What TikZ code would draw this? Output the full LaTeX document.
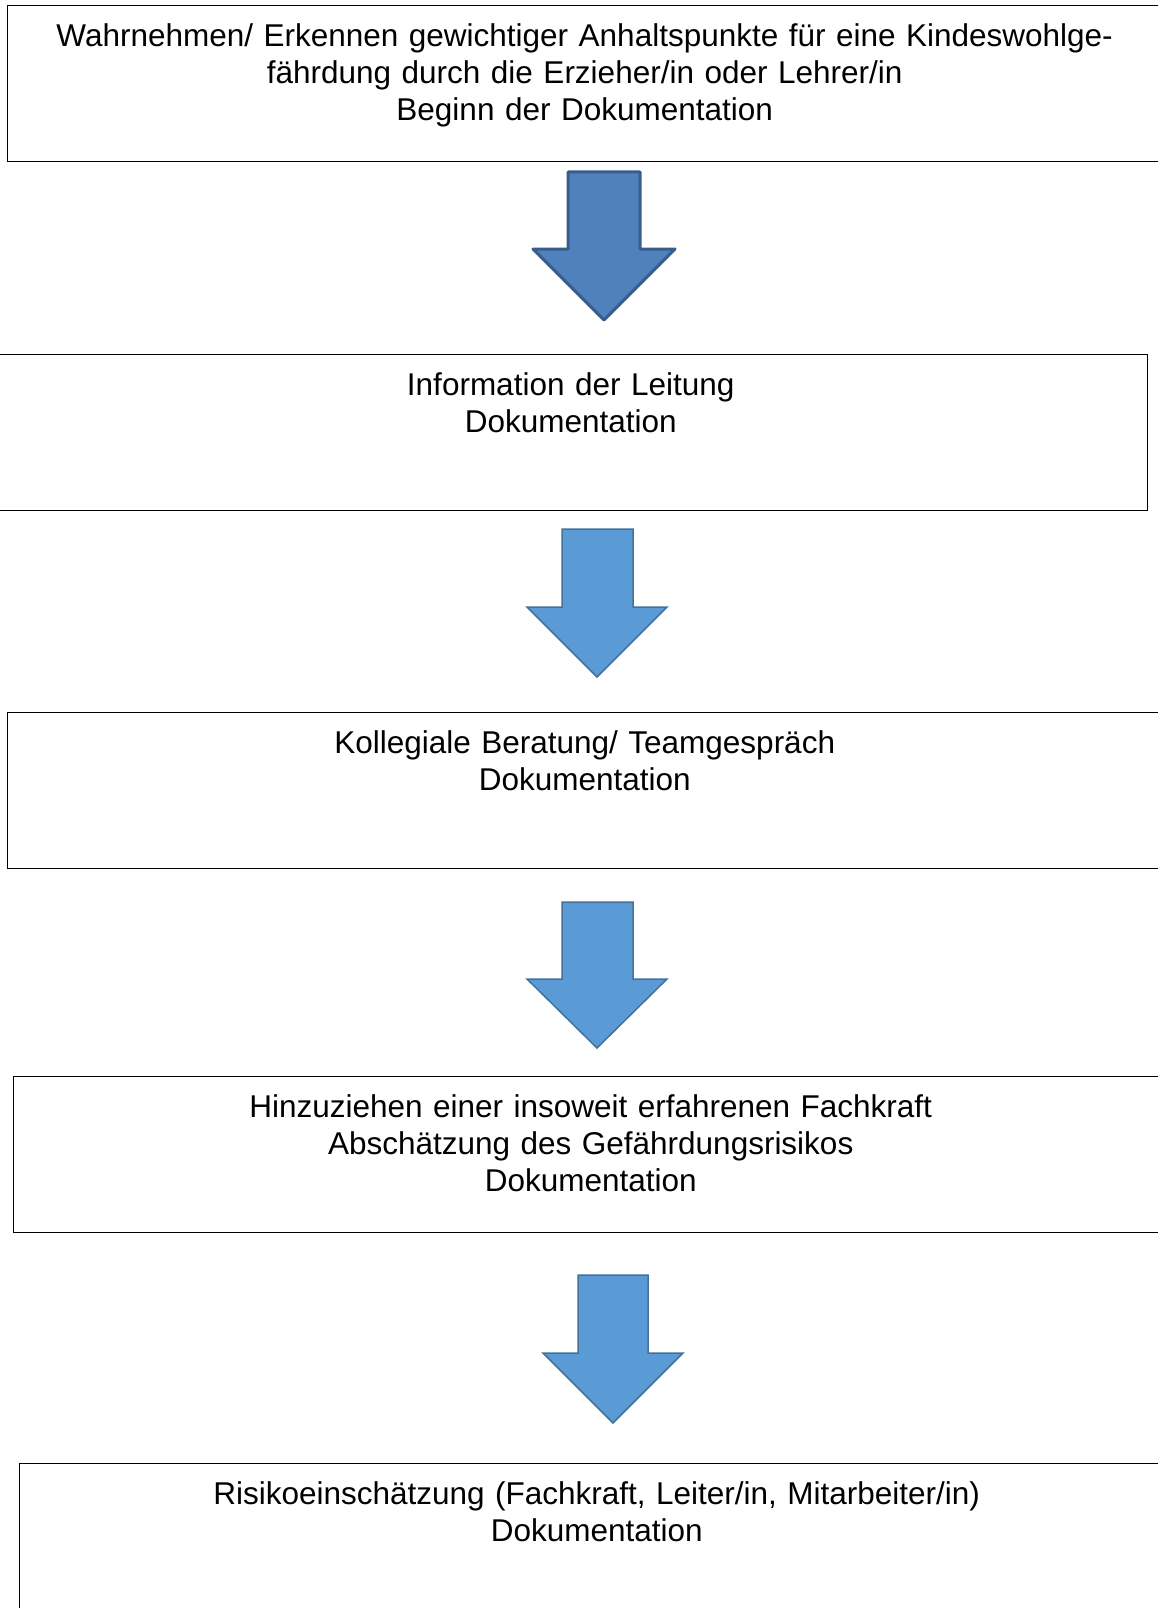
\documentclass[tikz,border=0pt]{standalone}
\usepackage{fontspec}
\setmainfont{Liberation Sans}
\usepackage{tikz}
\usetikzlibrary{arrows.meta}

\definecolor{firstfill}{HTML}{4F81BD}
\definecolor{firstline}{HTML}{385D8A}
\definecolor{arrfill}{HTML}{5B9BD5}
\definecolor{arrline}{HTML}{41719C}

\tikzset{
  stepbox/.style={draw=black, line width=1.4pt, anchor=north west,
    minimum width=1154pt, text width=1134pt, inner xsep=10pt, inner ysep=18pt,
    align=center, text height=22.5pt, text depth=97.5pt,
    font=\fontsize{31.5}{37}\selectfont},
  firstarrow/.style={fill=firstfill, draw=firstline, line width=3pt, line join=round},
  blockarrow/.style={fill=arrfill, draw=arrline, line width=1.5pt}
}

\begin{document}
\begin{tikzpicture}[x=1pt, y=-1pt]
            \useasboundingbox (0,0) rectangle (1158,1608);

            \node[stepbox] (wahrnehmen) at (7,5) {Wahrnehmen/ Erkennen gewichtiger Anhaltspunkte für eine Kindeswohlge-\\fährdung durch die Erzieher/in oder Lehrer/in\\Beginn der Dokumentation};
            \node[stepbox] (leitung) at (-7,354) {Information der Leitung\\Dokumentation};
            \node[stepbox] (beratung) at (7,712) {Kollegiale Beratung/ Teamgespräch\\Dokumentation};
            \node[stepbox] (fachkraft) at (13,1076) {Hinzuziehen einer insoweit erfahrenen Fachkraft\\Abschätzung des Gefährdungsrisikos\\Dokumentation};
            \node[stepbox] (risiko) at (19,1463) {Risikoeinschätzung (Fachkraft, Leiter/in, Mitarbeiter/in)\\Dokumentation};

            \draw[firstarrow] (568,172) -- (640,172) -- (640,249) -- (675,249) -- (604,320) -- (533,249) -- (568,249) -- cycle;

            \draw[blockarrow] (562,529) -- (633,529) -- (633,607) -- (667,607) -- (597,677) -- (527,607) -- (562,607) -- cycle;
            \draw[blockarrow] (562,902) -- (633,902) -- (633,979) -- (667,979) -- (597,1048) -- (527,979) -- (562,979) -- cycle;
            \draw[blockarrow] (578,1275) -- (648,1275) -- (648,1353) -- (683,1353) -- (613,1423) -- (543,1353) -- (578,1353) -- cycle;
        \end{tikzpicture}
\end{document}
